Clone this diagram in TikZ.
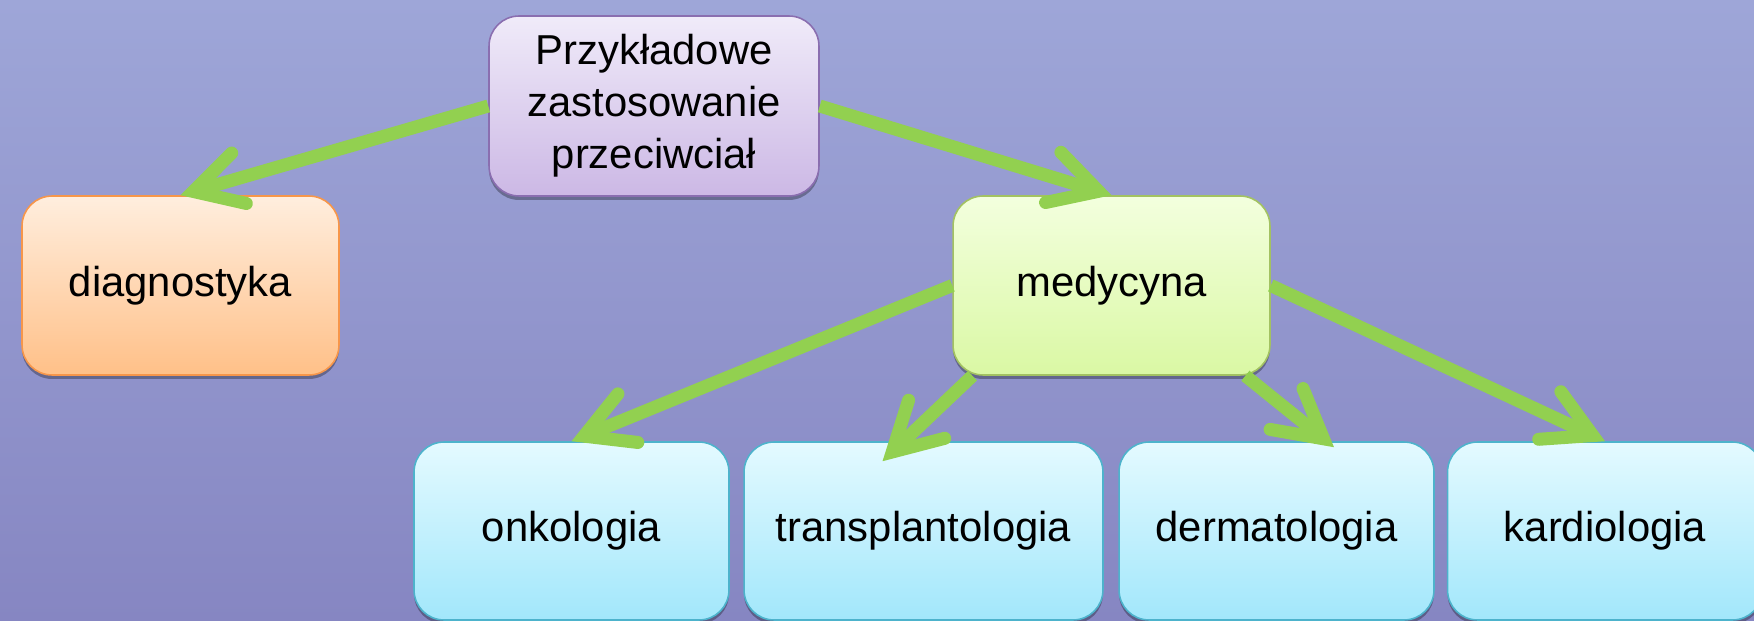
\documentclass[tikz,border=0pt]{standalone}
\usepackage{fontspec}
\setmainfont{Liberation Sans}
\usetikzlibrary{arrows.meta,shadows}

\definecolor{bgtop}{RGB}{158,166,216}
\definecolor{bgbot}{RGB}{134,134,194}
\definecolor{leaf}{RGB}{146,208,80}
\definecolor{lilatop}{RGB}{240,235,249}
\definecolor{lilabot}{RGB}{204,184,229}
\definecolor{lilaline}{RGB}{138,110,176}
\definecolor{orgtop}{RGB}{255,238,222}
\definecolor{orgbot}{RGB}{255,192,136}
\definecolor{orgline}{RGB}{247,150,74}
\definecolor{limtop}{RGB}{243,255,222}
\definecolor{limbot}{RGB}{218,248,164}
\definecolor{limline}{RGB}{163,194,98}
\definecolor{skytop}{RGB}{228,250,255}
\definecolor{skybot}{RGB}{162,231,251}
\definecolor{skyline}{RGB}{77,179,204}

\begin{document}
\begin{tikzpicture}[x=0.02cm,y=-0.02cm,
  box/.style={draw,line width=0.9pt,rounded corners=0.6cm,minimum height=3.58cm,
    align=center,font=\fontsize{23.8}{29.5}\selectfont,
    drop shadow={shadow xshift=0cm,shadow yshift=-0.08cm,opacity=0.3,fill=black}},
  lila/.style={box,top color=lilatop,bottom color=lilabot,draw=lilaline},
  org/.style={box,top color=orgtop,bottom color=orgbot,draw=orgline},
  lim/.style={box,top color=limtop,bottom color=limbot,draw=limline},
  sky/.style={box,top color=skytop,bottom color=skybot,draw=skyline,minimum height=3.56cm},
  arr/.style={draw=leaf,line width=0.26cm,line cap=butt,
    -{Straight Barb[line cap=round,line join=miter,length=0.95cm,width=1.05cm]}}]

% ---------- background ----------
\useasboundingbox (0,0) rectangle (1754,621);
\fill[top color=bgtop,bottom color=bgbot] (0,0) rectangle (1754,621);

% ---------- boxes ----------
\node[lila,minimum width=6.6cm,minimum height=3.6cm] (zast) at (654,106)
      {Przykładowe\\zastosowanie\\przeciwciał};
\node[org,minimum width=6.34cm] (diag) at (180.5,285.5) {diagnostyka};
\node[lim,minimum width=6.34cm] (med) at (1111.5,285.5) {medycyna};

% bottom row
\node[sky,minimum width=6.3cm]  (onk)   at (571.5,531) {onkologia};
\node[sky,minimum width=7.18cm] (trans) at (923.5,531) {transplantologia};
\node[sky,minimum width=6.3cm]  (derm)  at (1276.5,531) {dermatologia};
\node[sky,minimum width=6.3cm]  (kard)  at (1605,531) {kardiologia};

% ---------- arrows ----------
\draw[arr] (zast.west) -- (diag.north);
\draw[arr] (zast.east) -- (med.north);
\draw[arr] (med.west) -- (onk.north);
\draw[arr] (med.213.6) -- ([xshift=-0.82cm,yshift=-0.4cm]trans.north);
\draw[arr] (med.326.5) -- ([xshift=1.15cm,yshift=-0.12cm]derm.north);
\draw[arr] (med.east) -- (kard.north);

\end{tikzpicture}
\end{document}
